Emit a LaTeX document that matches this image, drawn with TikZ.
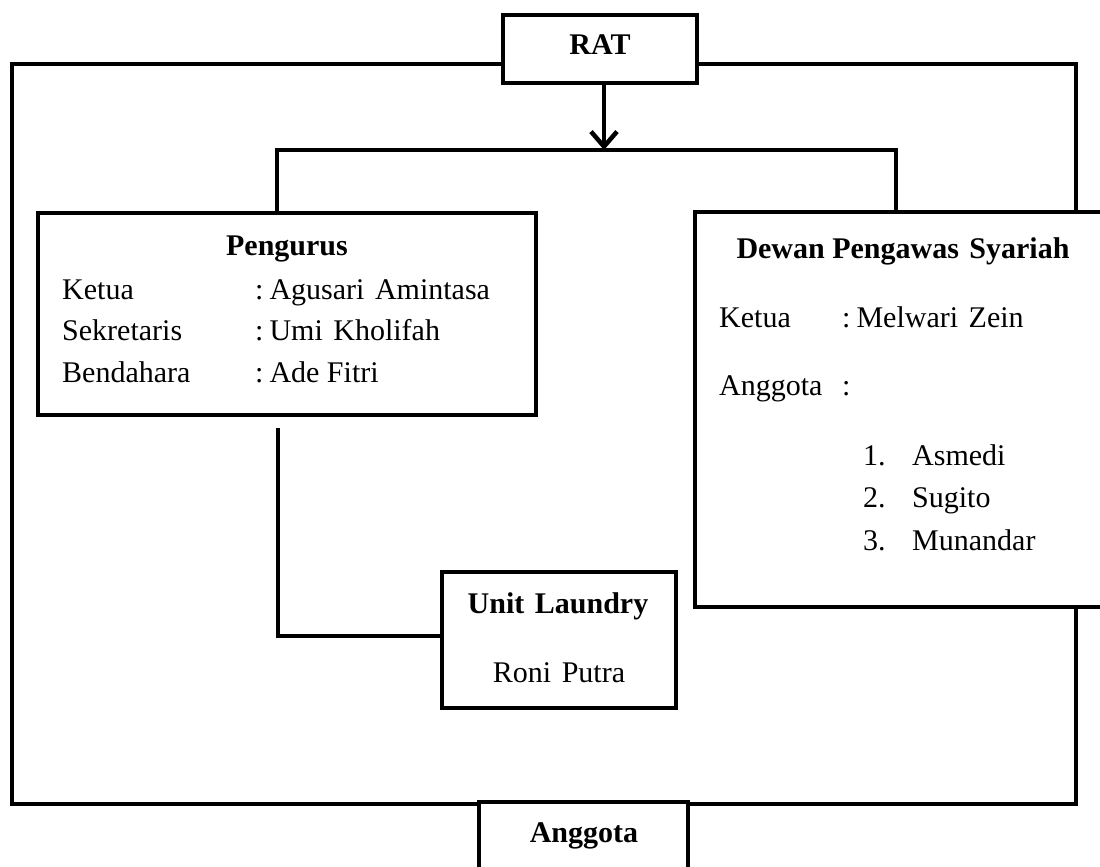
\documentclass[tikz,border=0pt]{standalone}
\usepackage{fontspec}
\setmainfont{Liberation Serif}
\usetikzlibrary{arrows.meta}
\begin{document}
\begin{tikzpicture}[x=1pt,y=-1pt,
  box/.style={draw, line width=4.5pt, inner sep=0pt, fill=white},
  conn/.style={line width=4.5pt},
  txt/.style={inner sep=0pt, anchor=base west, font=\fontsize{30}{36}\selectfont},
  ctxt/.style={inner sep=0pt, anchor=base, font=\fontsize{30}{36}\selectfont\bfseries},
  ntxt/.style={inner sep=0pt, anchor=base, font=\fontsize{30}{36}\selectfont}]
\useasboundingbox (0,0) rectangle (1100,867);
% boxes
\node[box, minimum width=194pt, minimum height=68pt] (rat) at (600,49) {};
\node[box, minimum width=498pt, minimum height=202pt] (peng) at (287,314) {};
\node[box, minimum width=420pt, minimum height=395pt] (dps) at (905,409.5) {};
\node[box, minimum width=234pt, minimum height=136pt] (unit) at (559,640) {};
\node[box, minimum width=209pt, minimum height=80pt] (ang) at (583.5,842) {};
% coordinates
\coordinate (oTL) at (12,64);
\coordinate (oBL) at (12,804);
\coordinate (oTR) at (1076,64);
\coordinate (oBR) at (1076,804);
\coordinate (hl) at (277,150);
\coordinate (hr) at (896,150);
\coordinate (pb) at (278,428);
\coordinate (ub) at (278,636);
\coordinate (ax) at (604,0);
% connectors
\draw[conn] (rat.west |- oTL) -- (oTL) -- (oBL) -- (ang.west |- oBL);
\draw[conn] (ang.east |- oBR) -- (oBR) -- (dps.south -| oBR);
\draw[conn] (dps.north -| oTR) -- (oTR) -- (rat.east |- oTR);
\draw[conn, -{Straight Barb[length=15pt, width=26pt]}] (rat.south -| ax) -- (hl -| ax);
\draw[conn] (hl |- peng.north) -- (hl) -- (hr) -- (hr |- dps.north);
\draw[conn] (pb) -- (ub) -- (ub -| unit.west);
% texts
\node[ctxt] (tRAT) at (600,55) {RAT};
\node[ctxt] (tPeng) at (287,255) {Pengurus};
\node[txt] (k1) at (62,299) {Ketua};
\node[txt] (k2) at (62,340) {Sekretaris};
\node[txt] (k3) at (62,382) {Bendahara};
\node[txt] (v1) at (255,299) {:\hspace{0.2em}Agusari\hspace{0.35em}Amintasa};
\node[txt] (v2) at (255,340) {:\hspace{0.2em}Umi\hspace{0.35em}Kholifah};
\node[txt] (v3) at (255,382) {:\hspace{0.2em}Ade Fitri};
\node[ctxt] (tDps) at (903,258) {Dewan Pengawas\hspace{0.35em}Syariah};
\node[txt] (d1) at (719,327) {Ketua};
\node[txt] (d1v) at (842,327) {:\hspace{0.2em}Melwari\hspace{0.35em}Zein};
\node[txt] (d2) at (719,395) {Anggota};
\node[txt] (d2v) at (842,395) {:};
\node[txt] (n1) at (863,465) {1.};
\node[txt] (n2) at (863,507) {2.};
\node[txt] (n3) at (863,550) {3.};
\node[txt] (m1) at (912,465) {Asmedi};
\node[txt] (m2) at (912,507) {Sugito};
\node[txt] (m3) at (912,550) {Munandar};
\node[ctxt] (tUnit) at (558,613) {Unit\hspace{0.35em}Laundry};
\node[ntxt] (tRoni) at (559,682) {Roni\hspace{0.35em}Putra};
\node[ctxt] (tAng) at (584,842) {Anggota};
\end{tikzpicture}
\end{document}
